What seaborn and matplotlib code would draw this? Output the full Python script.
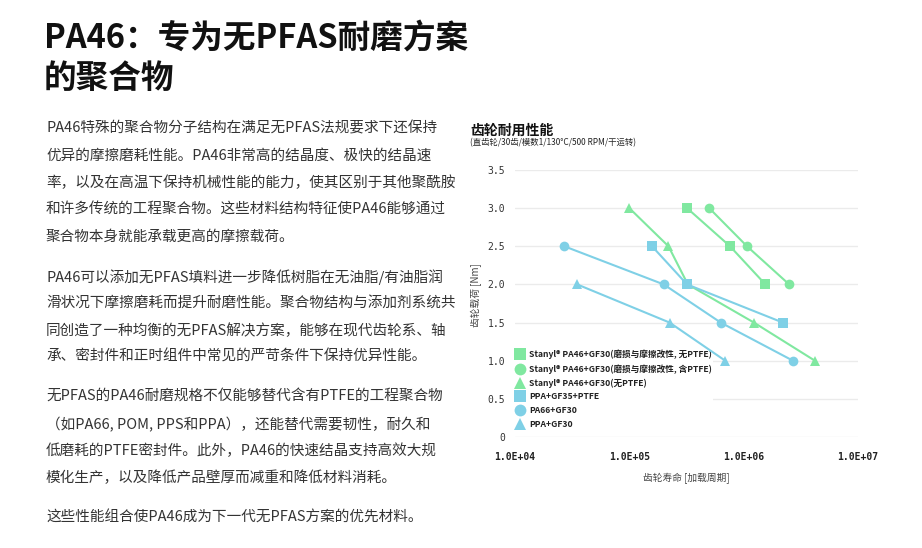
import matplotlib
matplotlib.use("Agg")
import matplotlib.pyplot as plt
from matplotlib.lines import Line2D
import seaborn as sns
import pandas as pd

# series: gear life (load cycles) vs gear load (Nm)
series_names = [
    "Stanyl® PA46+GF30(磨损与摩擦改性, 无PTFE)",
    "Stanyl® PA46+GF30(磨损与摩擦改性, 含PTFE)",
    "Stanyl® PA46+GF30(无PTFE)",
    "PPA+GF35+PTFE",
    "PA66+GF30",
    "PPA+GF30",
]
series_colors = ["#80e8a0", "#80e8a0", "#80e8a0", "#7fd0e6", "#7fd0e6", "#7fd0e6"]
series_markers = ["s", "o", "^", "s", "o", "^"]

life_pa46_wf = [3.2e5, 7.6e5, 1.55e6]
load_pa46_wf = [3.0, 2.5, 2.0]
life_pa46_ptfe = [5.0e5, 1.07e6, 2.5e6]
load_pa46_ptfe = [3.0, 2.5, 2.0]
life_pa46 = [1.0e5, 2.2e5, 3.25e5, 1.23e6, 4.2e6]
load_pa46 = [3.0, 2.5, 2.0, 1.5, 1.0]
life_ppa35 = [1.58e5, 3.2e5, 2.2e6]
load_ppa35 = [2.5, 2.0, 1.5]
life_pa66 = [2.7e4, 2.0e5, 6.3e5, 2.7e6]
load_pa66 = [2.5, 2.0, 1.5, 1.0]
life_ppa30 = [3.5e4, 2.25e5, 6.9e5]
load_ppa30 = [2.0, 1.5, 1.0]

x_ticks = [1e4, 1e5, 1e6, 1e7]
x_ticklabels = ["1.0E+04", "1.0E+05", "1.0E+06", "1.0E+07"]
y_ticks = [0, 0.5, 1.0, 1.5, 2.0, 2.5, 3.0, 3.5]
y_ticklabels = ["0", "0.5", "1.0", "1.5", "2.0", "2.5", "3.0", "3.5"]

heading = ["PA46：专为无PFAS耐磨方案", "的聚合物"]
body_lines = [
    "PA46特殊的聚合物分子结构在满足无PFAS法规要求下还保持",
    "优异的摩擦磨耗性能。PA46非常高的结晶度、极快的结晶速",
    "率，以及在高温下保持机械性能的能力，使其区别于其他聚酰胺",
    "和许多传统的工程聚合物。这些材料结构特征使PA46能够通过",
    "聚合物本身就能承载更高的摩擦载荷。",
    "PA46可以添加无PFAS填料进一步降低树脂在无油脂/有油脂润",
    "滑状况下摩擦磨耗而提升耐磨性能。聚合物结构与添加剂系统共",
    "同创造了一种均衡的无PFAS解决方案，能够在现代齿轮系、轴",
    "承、密封件和正时组件中常见的严苛条件下保持优异性能。",
    "无PFAS的PA46耐磨规格不仅能够替代含有PTFE的工程聚合物",
    "（如PA66, POM, PPS和PPA），还能替代需要韧性，耐久和",
    "低磨耗的PTFE密封件。此外，PA46的快速结晶支持高效大规",
    "模化生产，以及降低产品壁厚而减重和降低材料消耗。",
    "这些性能组合使PA46成为下一代无PFAS方案的优先材料。",
]
body_y = [128, 156, 183, 210, 237, 277, 303, 331, 357, 397, 425, 451, 478, 518]

lives = [life_pa46_wf, life_pa46_ptfe, life_pa46, life_ppa35, life_pa66, life_ppa30]
loads = [load_pa46_wf, load_pa46_ptfe, load_pa46, load_ppa35, load_pa66, load_ppa30]
rows = []
for name, xs, ys in zip(series_names, lives, loads):
    for x, y in zip(xs, ys):
        rows.append({"series": name, "life": x, "load": y})
df = pd.DataFrame(rows)

sns.set_style("white")
cjk = ["Noto Sans CJK SC", "DejaVu Sans"]
plt.rcParams["font.family"] = cjk

W, H = 922, 548
fig = plt.figure(figsize=(W / 100, H / 100), dpi=100)

# left text column
fig.text(44 / W, 1 - 38 / H, heading[0], fontsize=23.5, fontweight="bold", va="center", color="#111111")
fig.text(44 / W, 1 - 78 / H, heading[1], fontsize=23.5, fontweight="bold", va="center", color="#111111")
for line, yy in zip(body_lines, body_y):
    fig.text(46 / W, 1 - yy / H, line, fontsize=10.5, va="center", color="#333333")

# chart title
fig.text(470 / W, 1 - 131 / H, "齿轮耐用性能", fontsize=10, fontweight="bold", va="center", color="#111111")
fig.text(470 / W, 1 - 143 / H, "(直齿轮/30齿/模数1/130°C/500 RPM/干运转)", fontsize=6, va="center", color="#222222")

ax = fig.add_axes([515 / W, 1 - 437 / H, 343 / W, 267 / H])
palette = dict(zip(series_names, series_colors))
markers = dict(zip(series_names, series_markers))
sns.lineplot(data=df, x="life", y="load", hue="series", style="series",
             hue_order=series_names, style_order=series_names,
             palette=palette, markers=markers, dashes=False, sort=False,
             estimator=None, linewidth=1.5, markersize=7, markeredgewidth=0,
             ax=ax, legend=False)

ax.set_xscale("log")
ax.set_xlim(1e4, 1e7)
ax.set_ylim(0, 3.5)
ax.set_xticks(x_ticks)
ax.set_xticklabels(x_ticklabels, family="DejaVu Sans Mono", fontweight="bold", fontsize=7, color="#222222")
ax.minorticks_off()
ax.set_yticks(y_ticks)
ax.set_yticklabels(y_ticklabels, family="DejaVu Sans Mono", fontsize=7, color="#333333")
ax.tick_params(axis="x", length=0, pad=11)
ax.tick_params(axis="y", length=0, pad=7)
ax.grid(axis="y", color="#ebebeb", linewidth=1)
ax.grid(axis="x", visible=False)
ax.set_axisbelow(True)
for s in ax.spines.values():
    s.set_visible(False)

ax.set_xlabel("齿轮寿命 [加载周期]", fontsize=7, color="#444444")
ax.xaxis.set_label_coords(0.5, -0.135)
ax.set_ylabel("齿轮载荷 [Nm]", fontsize=7, color="#444444")
ax.yaxis.set_label_coords(-0.095, 0.53)

handles = [Line2D([], [], marker=m, color=c, linestyle="none", markersize=8.5, markeredgewidth=0)
           for m, c in zip(series_markers, series_colors)]
leg = ax.legend(handles, series_names, loc="upper left", bbox_to_anchor=(0, 0.33),
                frameon=True, facecolor="white", edgecolor="none", framealpha=1,
                borderpad=0.1, borderaxespad=0, handlelength=1.0, handletextpad=0.5,
                labelspacing=0.55, prop={"family": cjk, "size": 6.2, "weight": "bold"})
leg.set_zorder(1.5)
for t in leg.get_texts():
    t.set_color("#222222")

fig.savefig("out.png", dpi=100)
